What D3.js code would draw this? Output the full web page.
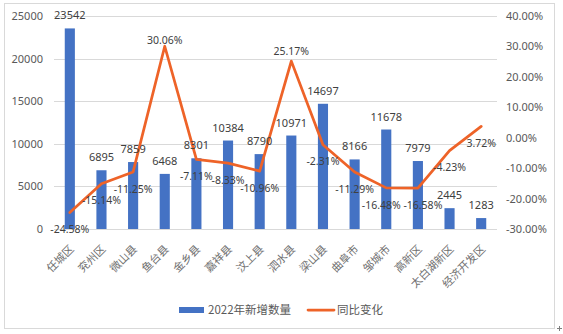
<!DOCTYPE html>
<html>
<head>
<meta charset="utf-8">
<script src="https://cdn.jsdelivr.net/npm/d3@7"></script>
<style>
  html, body { margin: 0; padding: 0; background: #fff; }
  svg { display: block; font-family: "Noto Sans CJK SC", "Noto Sans", sans-serif; }
</style>
</head>
<body>
<svg id="chart" width="563" height="334"></svg>
<script>
// Districts of Jining
const categories = ["任城区", "兖州区", "微山县", "鱼台县", "金乡县", "嘉祥县", "汶上县",
                    "泗水县", "梁山县", "曲阜市", "邹城市", "高新区", "太白湖新区", "经济开发区"];
// New additions in 2022
const newCount = [23542, 6895, 7859, 6468, 8301, 10384, 8790, 10971, 14697, 8166, 11678, 7979, 2445, 1283];
// Year-on-year change (%)
const yoyChange = [-24.58, -15.14, -11.25, 30.06, -7.11, -8.33, -10.96, 25.17, -2.31, -11.29, -16.48, -16.58, -4.23, 3.72];

const leftTicks = [0, 5000, 10000, 15000, 20000, 25000];
const rightTicks = [-30, -20, -10, 0, 10, 20, 30, 40];
const seriesNames = ["2022年新增数量", "同比变化"];

const barColor = "#4472C4";
const lineColor = "#EE6328";
const textColor = "#595959";
const labelColor = "#404040";
const gridColor = "#D9D9D9";
const numFont = '"Noto Sans", sans-serif';

const svg = d3.select("#chart");
const plot = { left: 54, right: 497, top: 16, bottom: 229 };

// Chart frame
svg.append("rect")
  .attr("x", 4.5).attr("y", 3.5).attr("width", 550).attr("height", 325)
  .attr("fill", "#fff").attr("stroke", gridColor).attr("stroke-width", 1);

const x = d3.scaleBand().domain(categories).range([plot.left, plot.right])
  .paddingInner(0.68).paddingOuter(0.34);
const cx = i => x(categories[i]) + x.bandwidth() / 2;
const yL = d3.scaleLinear().domain([0, 25000]).range([plot.bottom, plot.top]);
const yR = d3.scaleLinear().domain([-30, 40]).range([plot.bottom, plot.top]);

// Gridlines
svg.append("g").selectAll("line").data(leftTicks).join("line")
  .attr("x1", plot.left).attr("x2", plot.right)
  .attr("y1", d => Math.round(yL(d)) + 0.5).attr("y2", d => Math.round(yL(d)) + 0.5)
  .attr("stroke", gridColor).attr("stroke-width", 1);

// Left axis
const leftAxis = svg.append("g").attr("transform", `translate(${plot.left},0)`)
  .call(d3.axisLeft(yL).tickValues(leftTicks).tickSize(0).tickPadding(11).tickFormat(d3.format("d")));
leftAxis.select(".domain").remove();
leftAxis.selectAll("text").attr("fill", textColor).style("font-size", "11px").style("font-family", numFont);

// Right axis
const rightAxis = svg.append("g").attr("transform", `translate(${plot.right},0)`)
  .call(d3.axisRight(yR).tickValues(rightTicks).tickSize(0).tickPadding(9).tickFormat(d => d.toFixed(2) + "%"));
rightAxis.select(".domain").remove();
rightAxis.selectAll("text").attr("fill", textColor).style("font-size", "11px").style("font-family", numFont);

// Category labels, rotated
svg.append("g").selectAll("text").data(categories).join("text")
  .attr("transform", (d, i) => `translate(${cx(i) + 2},${plot.bottom + 18}) rotate(-45)`)
  .attr("text-anchor", "end").attr("dy", "0.35em")
  .attr("fill", "#6f6f6f").style("font-size", "11px")
  .text(d => d);

// Bars
svg.append("g").selectAll("rect").data(newCount).join("rect")
  .attr("x", (d, i) => x(categories[i]))
  .attr("width", x.bandwidth())
  .attr("y", d => yL(d))
  .attr("height", d => plot.bottom - yL(d))
  .attr("fill", barColor);

// Line
const line = d3.line().x((d, i) => cx(i)).y(d => yR(d));
svg.append("path").datum(yoyChange)
  .attr("d", line).attr("fill", "none")
  .attr("stroke", lineColor).attr("stroke-width", 2.75)
  .attr("stroke-linejoin", "round").attr("stroke-linecap", "round");

// Bar value labels
svg.append("g").selectAll("text").data(newCount).join("text")
  .attr("x", (d, i) => cx(i))
  .attr("y", d => yL(d) - 9)
  .attr("text-anchor", "middle").attr("fill", labelColor)
  .style("font-size", "11px").style("font-family", numFont)
  .text(d => d);

// Line value labels: below the point, except on the two peaks;
// the two neighbouring -16% labels are nudged apart
function pctLabelY(d, i) {
  if (i === 3) return yR(d) - 6;
  if (i === 7) return yR(d) - 10;
  return yR(d) + 17;
}
function pctLabelX(d, i) {
  if (i === 10) return cx(i) - 5;
  if (i === 11) return cx(i) + 5;
  return cx(i);
}
svg.append("g").selectAll("text").data(yoyChange).join("text")
  .attr("x", pctLabelX)
  .attr("y", pctLabelY)
  .attr("dy", "0.35em")
  .attr("text-anchor", "middle").attr("fill", labelColor)
  .style("font-size", "10.5px").style("font-family", numFont)
  .text(d => d.toFixed(2) + "%");

// Legend
const legend = svg.append("g");
legend.append("rect").attr("x", 179).attr("y", 307).attr("width", 25).attr("height", 6).attr("fill", barColor);
legend.append("text").attr("x", 208).attr("y", 310).attr("dy", "0.35em")
  .attr("fill", textColor).style("font-size", "11.5px").text(seriesNames[0]);
legend.append("line").attr("x1", 308).attr("x2", 334).attr("y1", 310).attr("y2", 310)
  .attr("stroke", lineColor).attr("stroke-width", 2.75).attr("stroke-linecap", "round");
legend.append("text").attr("x", 337).attr("y", 310).attr("dy", "0.35em")
  .attr("fill", textColor).style("font-size", "11.5px").text(seriesNames[1]);

// Resize handle at the frame corner
const handle = svg.append("g").attr("stroke", "#7f7f7f").attr("stroke-width", 1);
handle.append("line").attr("x1", 557).attr("x2", 562).attr("y1", 328.5).attr("y2", 328.5);
handle.append("line").attr("x1", 559.5).attr("x2", 559.5).attr("y1", 326).attr("y2", 331);
</script>
</body>
</html>
